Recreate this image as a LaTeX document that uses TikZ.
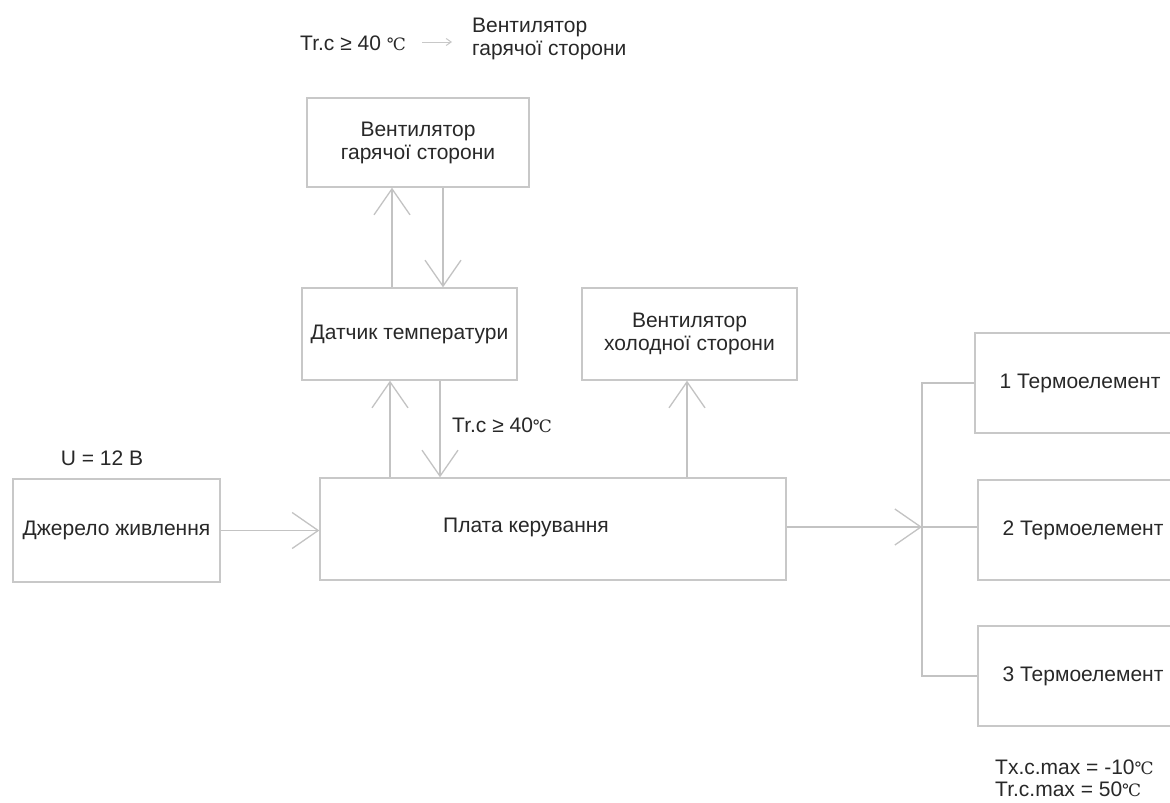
\documentclass[tikz,border=0pt]{standalone}
\usepackage{fontspec}
\setmainfont{Liberation Sans}
\newfontfamily\degfont{DejaVu Serif}
\usetikzlibrary{arrows.meta}
\newcommand\degsym{{\degfont\fontsize{17}{17}\selectfont ℃}}
\definecolor{boxline}{RGB}{200,200,200}
\definecolor{conline}{RGB}{195,195,195}
\definecolor{txt}{RGB}{40,40,40}
\tikzset{
  block/.style={draw=boxline, line width=1.4pt, inner sep=0pt, align=center,
    font=\fontsize{21}{23}\selectfont, text=txt},
  lbl/.style={inner sep=0pt, font=\fontsize{21}{23}\selectfont, text=txt},
  arr/.style={draw=conline, line width=1.3pt,
    -{Straight Barb[length=26pt,width=36pt,line width=1.3pt]}},
  wire/.style={draw=conline, line width=1.3pt},
}
\begin{document}
\begin{tikzpicture}[x=1pt,y=-1pt]
\useasboundingbox (0,0) rectangle (1170,803);
\clip (0,0) rectangle (1170,803);
\fill[white] (0,0) rectangle (1170,803);

% blocks
\node[block, minimum width=222pt, minimum height=89pt] (fanhot) at (418,142.5) {Вентилятор\\гарячої сторони};
\node[block, minimum width=215pt, minimum height=92pt] (sensor) at (409.5,334) {Датчик температури};
\node[block, minimum width=215pt, minimum height=92pt] (fancold) at (689.5,334) {Вентилятор\\холодної сторони};
\node[block, minimum width=466pt, minimum height=102pt] (plata) at (553,529) {};
\node[lbl] (platatext) at (526,527) {Плата керування};
\node[block, minimum width=207pt, minimum height=103pt] (src) at (116.5,530.5) {Джерело живлення};
\node[block, minimum width=210pt, minimum height=100pt] (te1) at (1080,383) {1 Термоелемент};
\node[block, minimum width=210pt, minimum height=100pt] (te2) at (1083,530) {2 Термоелемент};
\node[block, minimum width=210pt, minimum height=100pt] (te3) at (1083,676) {3 Термоелемент};

% helper coordinates
\coordinate (xa) at (392,0);
\coordinate (xb) at (443,0);
\coordinate (xc) at (390,0);
\coordinate (xd) at (440,0);
\coordinate (xe) at (687,0);
\coordinate (br) at (922,527);

% connectors
\draw[arr] (sensor.north -| xa) -- (fanhot.south -| xa);
\draw[arr] (fanhot.south -| xb) -- (sensor.north -| xb);
\draw[arr] (plata.north -| xc) -- (sensor.south -| xc);
\draw[arr] (sensor.south -| xd) -- (plata.north -| xd);
\draw[arr] (plata.north -| xe) -- (fancold.south -| xe);
\draw[arr] (src.east) -- (plata.west |- src.east);
\draw[arr] (plata.east |- br) -- (br);
\draw[wire] (te1.west) -- (te1.west -| br) -- (te3.west -| br) -- (te3.west);
\draw[wire] (br) -- (te2.west |- br);

% labels
\node[lbl] (ulabel) at (102,458) {U = 12 В};
\node[lbl, anchor=west] (trlabel) at (452,425) {Tr.c ≥ 40\degsym};
\node[lbl, anchor=west] (toptr) at (300,43) {Tr.c ≥ 40 \degsym};
\node[lbl, anchor=west, align=left] (topfan) at (472,38.5) {Вентилятор\\гарячої сторони};
\coordinate (ta) at (422,42);
\coordinate (tb) at (452,42);
\draw[draw=boxline, line width=1pt, -{Straight Barb[length=5pt,width=7pt]}] (ta) -- (tb);
\node[lbl, anchor=west, align=left, font=\fontsize{21}{22}\selectfont] (notes) at (995,778) {Tx.c.max = -10\degsym\\Tr.c.max = 50\degsym};
\end{tikzpicture}
\end{document}
